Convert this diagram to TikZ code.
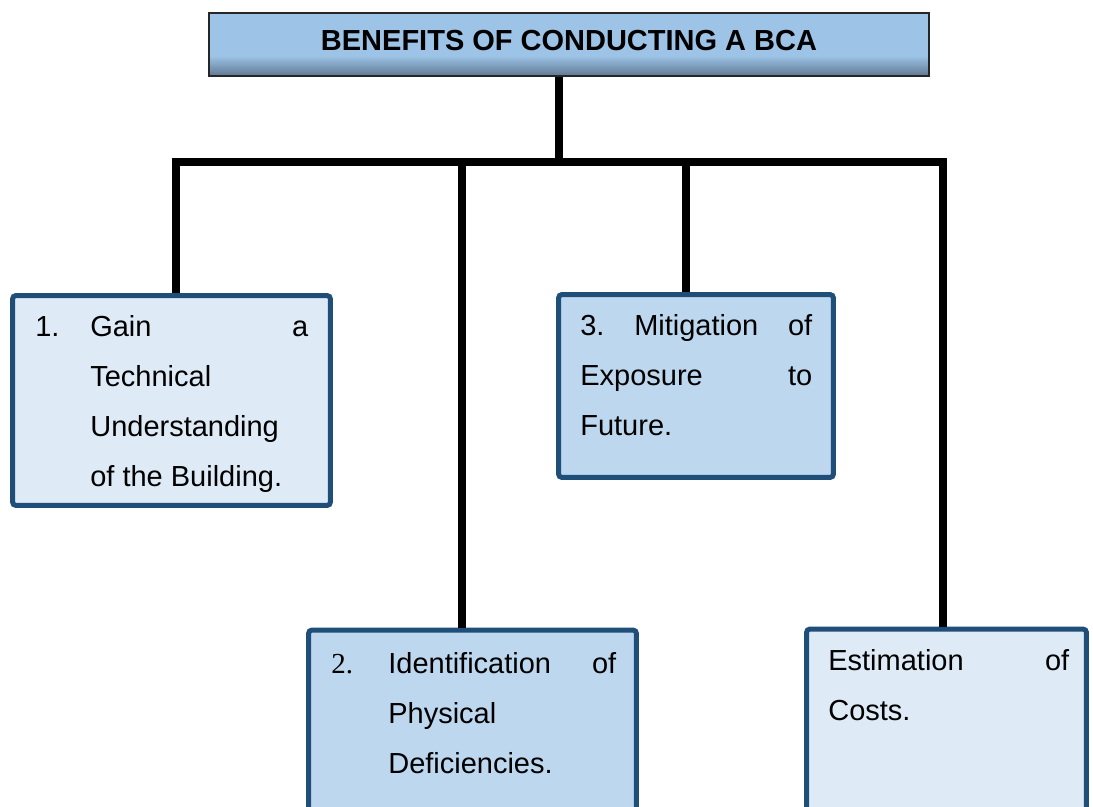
\documentclass[tikz,border=0pt]{standalone}
\usepackage{fontspec}
\setmainfont{Liberation Sans}
\newfontfamily\numfont{Liberation Serif}
\usetikzlibrary{calc}
\definecolor{boxline}{RGB}{31,78,121}
\definecolor{lightfill}{RGB}{222,235,247}
\definecolor{midfill}{RGB}{189,215,238}
\definecolor{titlefill}{RGB}{157,195,230}
\definecolor{titleshade}{RGB}{96,120,146}
\pgfdeclareverticalshading{titlegrad}{100bp}{color(0bp)=(titleshade); color(25bp)=(titleshade); color(41bp)=(titlefill); color(100bp)=(titlefill)}
% one justified line of a given width
\newcommand{\jline}[3]{\makebox[#1][s]{#2\hfill #3}}

\begin{document}
\begin{tikzpicture}[x=0.02cm,y=-0.02cm,
    benefit/.style={draw=boxline,line width=0.1cm,rounded corners=2pt,inner sep=0pt},
    branch/.style={line width=0.16cm,black},
    txt/.style={anchor=north west,inner sep=0pt,align=left,font=\fontsize{16.5}{28.45}\selectfont},
]
    \clip (0,0) rectangle (1093,807);
    \fill[white] (0,0) rectangle (1093,807);

    \node[draw=black!85,line width=1.3pt,shade,shading=titlegrad,minimum width=14.4cm,minimum height=1.26cm,
        text depth=0.15cm,font=\bfseries\fontsize{16.5}{20}\selectfont] (title) at (569,44.5) {BENEFITS OF CONDUCTING A BCA};

    \node[benefit,fill=lightfill,minimum width=6.36cm,minimum height=4.2cm] (b1) at (171.5,400.5) {};
    \node[benefit,fill=midfill,minimum width=6.56cm,minimum height=4cm] (b2) at (472.5,730) {};
    \node[benefit,fill=midfill,minimum width=5.5cm,minimum height=3.66cm] (b3) at (696,386) {};
    \node[benefit,fill=lightfill,minimum width=5.6cm,minimum height=4cm] (b4) at (946.5,729) {};

    % tree
    \coordinate (hub) at (559,162);
    \coordinate (d1) at (176,162);
    \coordinate (d2) at (462,162);
    \coordinate (d3) at (686,162);
    \coordinate (d4) at (943,162);
    \draw[branch] (hub |- title.south) -- (hub);
    \draw[branch] (d1 |- b1.north) -- (d1) -- (d4) -- (d4 |- b4.north);
    \draw[branch] (d2) -- (d2 |- b2.north);
    \draw[branch] (d3) -- (d3 |- b3.north);

    \node[txt] (t1) at (35,315) {\jline{5.46cm}{\makebox[1.1cm][l]{1.}Gain}{a}\\
        \hspace*{1.1cm}Technical\\
        \hspace*{1.1cm}Understanding\\
        \hspace*{1.1cm}of the Building.};
    \node[txt] (t2) at (331,652) {\jline{5.7cm}{\makebox[1.14cm][l]{\numfont 2.}Identification}{of}\\
        \hspace*{1.14cm}Physical\\
        \hspace*{1.14cm}Deficiencies.};
    \node[txt] (t3) at (580,314) {\makebox[4.64cm][s]{3.\hfill Mitigation\hfill of}\\
        \jline{4.64cm}{Exposure}{to}\\
        Future.};
    \node[txt] (t4) at (828,649) {\jline{4.82cm}{Estimation}{of}\\
        Costs.};
\end{tikzpicture}
\end{document}
